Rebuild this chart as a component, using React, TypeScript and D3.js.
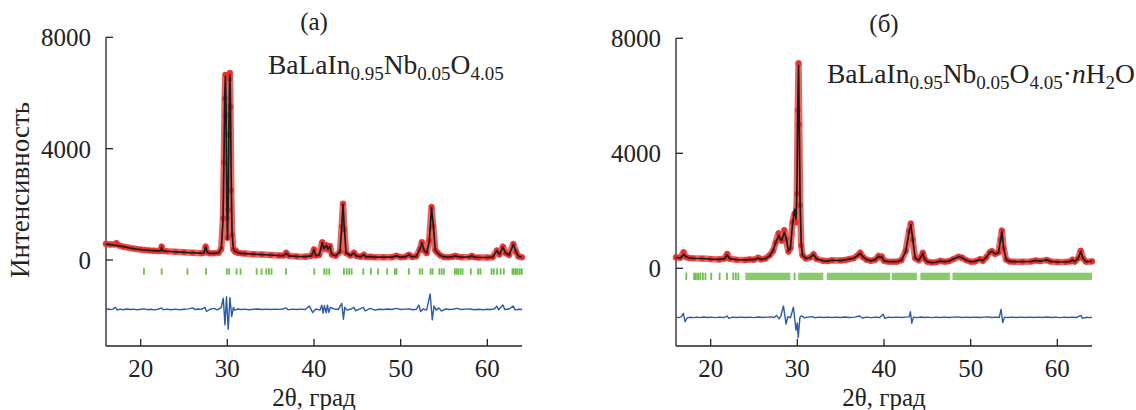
import React from 'react';
import * as d3 from 'd3';

const xTicks = [20, 30, 40, 50, 60];
const yTicks = [0, 4000, 8000];
const xDomain: [number, number] = [16, 64];

// [2θ, observed, calculated]
const profileA: [number, number, number][] = [
  [16.0, 580, 570], [16.5, 560, 550], [17.0, 560, 530], [17.2, 610, 525], [17.5, 520, 510],
  [18.0, 480, 480], [18.5, 450, 450], [19.0, 420, 420], [19.5, 395, 395], [20.0, 375, 375],
  [20.5, 360, 360], [21.0, 345, 345], [21.5, 335, 335], [22.0, 325, 325], [22.3, 330, 330],
  [22.42, 480, 470], [22.55, 330, 330], [23.0, 315, 315], [24.0, 295, 295], [25.0, 275, 275],
  [26.0, 260, 260], [27.0, 245, 245], [27.3, 260, 260], [27.5, 480, 470], [27.7, 270, 270],
  [28.0, 240, 240], [28.5, 240, 240], [29.0, 260, 260], [29.3, 400, 420], [29.5, 1500, 1400],
  [29.6, 3500, 3300], [29.7, 5800, 5900], [29.78, 6650, 6600], [29.85, 5200, 5500], [29.95, 1500, 1800],
  [30.02, 800, 750], [30.1, 1800, 2200], [30.18, 4500, 4700], [30.26, 6500, 6400], [30.3, 6720, 6650],
  [30.36, 5500, 5700], [30.45, 2500, 2700], [30.55, 900, 950], [30.7, 380, 400], [30.9, 300, 300],
  [31.0, 330, 320], [31.2, 260, 260], [31.6, 240, 240], [32.0, 230, 230], [33.0, 210, 210],
  [34.0, 195, 195], [35.0, 180, 180], [36.0, 160, 160], [36.5, 160, 160], [36.8, 260, 250],
  [37.1, 150, 150], [38.0, 130, 130], [39.0, 120, 120], [39.7, 150, 150], [40.0, 380, 370],
  [40.2, 160, 160], [40.6, 180, 180], [40.95, 640, 620], [41.15, 400, 420], [41.45, 530, 520],
  [41.6, 380, 390], [41.85, 500, 490], [42.05, 200, 200], [42.5, 150, 150], [43.0, 300, 300],
  [43.2, 1200, 1150], [43.35, 2020, 2000], [43.5, 1100, 1150], [43.7, 250, 250], [44.2, 160, 160],
  [44.6, 260, 250], [44.9, 140, 140], [45.4, 120, 120], [45.75, 190, 190], [46.0, 110, 110],
  [46.5, 120, 120], [47.0, 100, 100], [48.0, 100, 100], [49.0, 100, 100], [49.5, 150, 150],
  [50.0, 100, 100], [50.5, 110, 110], [50.95, 190, 190], [51.3, 110, 110], [51.8, 130, 130],
  [52.2, 380, 370], [52.45, 640, 620], [52.7, 350, 350], [53.0, 250, 250], [53.3, 700, 650],
  [53.56, 1900, 1880], [53.75, 1200, 1300], [54.0, 350, 350], [54.25, 260, 260], [54.6, 160, 160],
  [55.0, 110, 110], [55.5, 100, 100], [56.0, 120, 120], [56.3, 150, 150], [56.6, 120, 120],
  [57.0, 100, 100], [58.0, 110, 110], [58.2, 150, 150], [58.5, 100, 100], [59.0, 90, 90],
  [60.0, 90, 90], [60.6, 100, 100], [61.1, 340, 330], [61.4, 200, 200], [61.8, 480, 460],
  [62.1, 250, 250], [62.5, 180, 180], [63.0, 570, 560], [63.3, 300, 300], [63.6, 130, 130],
  [64.0, 100, 100],
];

// [2θ, observed − calculated, shifted]
const diffA: [number, number][] = [
  [16, -1780], [16.3, -1760], [16.5, -1785], [16.8, -1765], [17.1, -1700], [17.3, -1800], [17.6, -1765],
  [18, -1785], [18.4, -1760], [18.8, -1780], [19.2, -1765], [19.6, -1790], [20, -1770], [20.4, -1755],
  [20.8, -1785], [21.2, -1770], [21.6, -1790], [22, -1770], [22.4, -1720], [22.6, -1790], [23, -1765],
  [23.5, -1785], [24, -1765], [24.5, -1785], [25, -1770], [25.5, -1755], [26, -1720], [26.3, -1780],
  [26.7, -1760], [27, -1775], [27.4, -1700], [27.6, -1850], [28, -1770], [28.5, -1740], [28.8, -1790],
  [29.0, -1770], [29.3, -1700], [29.53, -1375], [29.73, -2330], [29.9, -1320], [30.1, -2490],
  [30.3, -1350], [30.5, -2030], [30.7, -1700], [30.85, -1800], [31.2, -1760], [31.6, -1780],
  [32, -1765], [32.5, -1785], [33, -1770], [33.5, -1760], [34, -1780], [34.5, -1765], [35, -1780],
  [35.5, -1765], [36, -1775], [36.4, -1760], [36.8, -1720], [37, -1790], [37.5, -1765], [38, -1780],
  [38.5, -1765], [39, -1780], [39.45, -1650], [39.85, -1890], [40.2, -1760], [40.7, -1800],
  [40.9, -1620], [41.05, -1910], [41.2, -1640], [41.4, -1900], [41.55, -1620], [41.7, -1880],
  [41.9, -1700], [42.3, -1760], [42.8, -1780], [43.2, -1560], [43.4, -2130], [43.55, -1700],
  [43.8, -1800], [44.3, -1760], [44.6, -1700], [44.8, -1820], [45.3, -1760], [45.7, -1700],
  [45.9, -1830], [46.5, -1740], [47, -1800], [47.5, -1770], [48, -1780], [48.5, -1760], [49, -1780],
  [49.5, -1740], [50, -1780], [50.5, -1765], [51, -1760], [51.4, -1785], [51.8, -1770], [52.1, -1620],
  [52.3, -1850], [52.6, -1760], [53.0, -1800], [53.4, -1220], [53.65, -2150], [53.85, -1650],
  [54.1, -1800], [54.4, -1720], [54.7, -1830], [55.2, -1760], [55.6, -1780], [56, -1770],
  [56.5, -1740], [57, -1780], [57.5, -1765], [58, -1760], [58.5, -1785], [59, -1770], [59.5, -1785],
  [60, -1770], [60.4, -1780], [60.8, -1760], [61.1, -1660], [61.3, -1790], [61.8, -1620], [62, -1780],
  [62.5, -1760], [63, -1660], [63.2, -1790], [63.6, -1770], [64, -1780],
];

const reflectionsA = [
  20.38, 22.42, 25.4, 27.53, 29.95, 30.22, 31.07, 31.53, 33.38, 33.95, 34.5, 34.8, 35.1, 36.76,
  40.03, 41.18, 41.45, 41.76, 43.45, 43.76, 44.06, 44.34, 45.68, 46.57, 47.4, 48.44, 49.33, 49.52,
  50.95, 52.2, 52.5, 53.45, 53.68, 54.45, 54.72, 54.98, 56.25, 56.45, 56.64, 56.9, 57.14, 58.1,
  58.94, 59.2, 60.48, 60.75, 61.13, 61.53, 61.9, 62.9, 63.06, 63.3, 63.5, 63.75, 63.98,
];

const profileB: [number, number, number][] = [
  [16.0, 380, 370], [16.5, 370, 360], [16.88, 560, 480], [17.1, 400, 420], [17.5, 360, 360],
  [18.0, 350, 350], [19.0, 340, 340], [20.0, 320, 320], [21.0, 310, 310], [21.6, 340, 330],
  [21.9, 500, 470], [22.2, 330, 330], [23.0, 300, 300], [24.0, 290, 290], [24.5, 310, 300],
  [25.0, 300, 300], [25.5, 370, 350], [25.8, 310, 310], [26.3, 340, 330], [26.8, 450, 430],
  [27.2, 600, 620], [27.5, 900, 880], [27.84, 1220, 1150], [28.05, 1050, 1000], [28.2, 960, 980],
  [28.5, 1330, 1250], [28.7, 1000, 1080], [28.97, 580, 600], [29.2, 700, 700], [29.45, 1600, 1550],
  [29.68, 1900, 2050], [29.85, 1600, 1700], [29.95, 2600, 2700], [30.05, 5500, 5500], [30.14, 7130, 7050],
  [30.22, 5000, 5100], [30.32, 2200, 2300], [30.45, 800, 850], [30.6, 450, 450], [31.0, 340, 340],
  [31.5, 380, 380], [31.87, 490, 480], [32.2, 330, 330], [33.0, 260, 260], [33.5, 250, 250],
  [34.0, 280, 280], [35.0, 270, 270], [35.5, 290, 290], [36.0, 320, 320], [36.5, 350, 350],
  [37.0, 460, 450], [37.26, 540, 520], [37.6, 380, 390], [38.0, 300, 300], [38.5, 260, 260],
  [39.0, 300, 300], [39.37, 430, 420], [39.55, 380, 380], [39.75, 410, 400], [40.0, 260, 260],
  [40.5, 230, 230], [41.0, 230, 230], [41.5, 230, 230], [42.0, 280, 280], [42.5, 600, 580],
  [42.9, 1300, 1280], [43.1, 1560, 1520], [43.3, 1000, 1050], [43.6, 350, 360], [44.0, 280, 280],
  [44.3, 420, 410], [44.48, 540, 530], [44.7, 320, 320], [45.0, 230, 230], [45.5, 200, 200],
  [46.0, 210, 210], [46.5, 260, 250], [47.0, 230, 230], [47.5, 250, 250], [48.0, 320, 320],
  [48.6, 400, 400], [49.0, 370, 370], [49.5, 280, 280], [50.0, 230, 230], [50.5, 240, 240],
  [51.1, 320, 310], [51.4, 260, 260], [51.8, 380, 380], [52.2, 560, 550], [52.45, 600, 590],
  [52.8, 500, 500], [53.2, 550, 540], [53.45, 1000, 980], [53.6, 1310, 1290], [53.8, 700, 720],
  [54.1, 300, 300], [54.5, 240, 240], [55.0, 230, 230], [56.0, 230, 230], [57.0, 240, 240],
  [57.5, 270, 270], [58.0, 250, 250], [58.8, 290, 290], [59.2, 240, 240], [60.0, 220, 220],
  [61.0, 220, 220], [61.5, 240, 240], [61.75, 300, 290], [62.0, 230, 230], [62.4, 350, 340],
  [62.7, 610, 590], [62.95, 350, 350], [63.3, 230, 230], [64.0, 240, 240],
];

const diffB: [number, number][] = [
  [16, -1700], [16.3, -1715], [16.6, -1690], [16.85, -1565], [17.05, -1860], [17.3, -1720], [17.6, -1705],
  [18, -1715], [18.4, -1700], [18.8, -1715], [19.2, -1695], [19.6, -1712], [20, -1700], [20.5, -1715],
  [21, -1700], [21.5, -1712], [21.9, -1660], [22.1, -1740], [22.5, -1700], [23, -1712], [23.5, -1698],
  [24, -1712], [24.5, -1700], [25, -1714], [25.5, -1695], [26, -1710], [26.5, -1698], [27, -1690],
  [27.3, -1715], [27.6, -1640], [27.9, -1760], [28.1, -1660], [28.4, -1310], [28.7, -1940],
  [28.9, -1680], [29.2, -1720], [29.55, -1355], [29.85, -2150], [30.0, -1900], [30.1, -2410],
  [30.3, -1700], [30.5, -1650], [30.8, -1720], [31.2, -1700], [31.8, -1680], [32, -1720], [32.5, -1700],
  [33, -1712], [33.5, -1698], [34, -1712], [34.5, -1698], [35, -1710], [35.5, -1695], [36, -1712],
  [36.6, -1700], [37.2, -1660], [37.5, -1730], [38, -1700], [38.5, -1714], [39, -1700], [39.5, -1712],
  [39.9, -1600], [40.1, -1740], [40.5, -1700], [41, -1712], [41.5, -1698], [42, -1712], [42.5, -1700],
  [42.9, -1690], [43.05, -1510], [43.2, -1910], [43.4, -1700], [43.8, -1715], [44.3, -1695],
  [44.7, -1712], [45, -1700], [45.5, -1714], [46, -1700], [46.5, -1712], [47, -1698], [47.5, -1712],
  [48, -1700], [48.5, -1690], [49, -1712], [49.5, -1698], [50, -1710], [50.5, -1697], [51, -1712],
  [51.5, -1700], [52, -1690], [52.4, -1712], [53, -1700], [53.3, -1712], [53.5, -1430], [53.7, -1890],
  [53.9, -1700], [54.3, -1712], [54.8, -1698], [55.3, -1712], [55.8, -1700], [56.3, -1712], [56.8, -1698],
  [57.3, -1712], [57.8, -1700], [58.3, -1712], [58.8, -1695], [59.3, -1712], [59.8, -1700],
  [60.3, -1714], [60.8, -1700], [61.3, -1712], [61.8, -1698], [62.2, -1712], [62.7, -1640],
  [62.9, -1740], [63.3, -1705], [63.7, -1715], [64, -1705],
];

const reflectionsB = [
  17.19, 18.1, 18.3, 18.55, 18.8, 19.1, 19.4, 20.07, 21.03, 21.88, 22.6, 22.9, 23.2, 29.68,
];
// dense runs of reflections that merge into solid bars: [from, to]
const reflectionRunsB: [number, number][] = [
  [24.0, 29.2], [30.1, 33.0], [33.4, 40.7], [40.9, 43.8], [44.2, 47.6], [47.9, 64.0],
];

const FONT = "'Liberation Serif', 'Times New Roman', serif";
const RED = '#e8302c';
const BLACK = '#1c1c1c';
const GREEN = '#6cbf4a';
const BLUE = '#2b5aa8';

type PanelProps = {
  x0: number; x1: number; yTop: number; yZero: number; yBottom: number;
  profile: [number, number, number][];
  diff: [number, number][];
  reflections: number[];
  runs: [number, number][];
  tickLo: number; tickHi: number;
  letter: string; letterY: number;
  formula: React.ReactNode;
  yLabel?: boolean;
};

function Panel(p: PanelProps) {
  const x = d3.scaleLinear().domain(xDomain).range([p.x0, p.x1]);
  const k = (p.yZero - p.yTop) / 8000;
  const yMin = -(p.yBottom - p.yZero) / k;
  const y = d3.scaleLinear().domain([yMin, 8000]).range([p.yBottom, p.yTop]);
  const obsLine = d3.line<[number, number, number]>().x(d => x(d[0])).y(d => y(d[1]));
  const calcLine = d3.line<[number, number, number]>().x(d => x(d[0])).y(d => y(d[2]));
  const diffLine = d3.line<[number, number]>().x(d => x(d[0])).y(d => y(d[1]));
  const cx = (p.x0 + p.x1) / 2;
  return (
    <g fontFamily={FONT} fill="#222">
      {/* axes */}
      <line x1={p.x0} x2={p.x0} y1={y(8000)} y2={p.yBottom} stroke="#222" strokeWidth={1.3} />
      <line x1={p.x0} x2={p.x1} y1={p.yBottom} y2={p.yBottom} stroke="#222" strokeWidth={1.3} />
      {yTicks.map(t => (
        <g key={'y' + t}>
          <line x1={p.x0} x2={p.x0 + 7} y1={y(t)} y2={y(t)} stroke="#222" strokeWidth={1.3} />
          <text x={p.x0 - 15} y={y(t) + 9} fontSize={25} textAnchor="end">{t}</text>
        </g>
      ))}
      {xTicks.map(t => (
        <g key={'x' + t}>
          <line x1={x(t)} x2={x(t)} y1={p.yBottom} y2={p.yBottom - 7} stroke="#222" strokeWidth={1.3} />
          <text x={x(t)} y={p.yBottom + 31} fontSize={25} textAnchor="middle">{t}</text>
        </g>
      ))}
      <text x={cx} y={406} fontSize={25} textAnchor="middle">2θ, град</text>
      {p.yLabel && (
        <text transform={`translate(29,${190}) rotate(-90)`} fontSize={27} textAnchor="middle">Интенсивность</text>
      )}
      <text x={cx} y={p.letterY} fontSize={25} textAnchor="middle">{p.letter}</text>
      {p.formula}
      {/* reflection ticks */}
      {p.runs.map((r, i) => (
        <rect key={'r' + i} x={x(r[0])} width={x(r[1]) - x(r[0])} y={y(p.tickHi)} height={y(p.tickLo) - y(p.tickHi)} fill={GREEN} opacity={0.82} />
      ))}
      {p.reflections.map((r, i) => (
        <line key={'t' + i} x1={x(r)} x2={x(r)} y1={y(p.tickHi)} y2={y(p.tickLo)} stroke={GREEN} strokeWidth={1.8} />
      ))}
      {/* difference */}
      <path d={diffLine(p.diff) || ''} fill="none" stroke={BLUE} strokeWidth={1.4} strokeLinejoin="round" />
      {/* observed */}
      <path d={obsLine(p.profile) || ''} fill="none" stroke={RED} strokeWidth={6.5} strokeOpacity={0.75} strokeLinejoin="round" strokeLinecap="round" />
      {p.profile.map((d, i) => (
        <circle key={'o' + i} cx={x(d[0])} cy={y(d[1])} r={2.8} fill={RED} />
      ))}
      {/* calculated */}
      <path d={calcLine(p.profile) || ''} fill="none" stroke={BLACK} strokeWidth={1.7} strokeLinejoin="round" />
    </g>
  );
}

const SUB = 19;

export default function App() {
  const formulaA = (
    <text x={268} y={74} fontSize={27.5} fontFamily={FONT} fill="#222">
      BaLaIn<tspan fontSize={SUB} dy={6}>0.95</tspan>
      <tspan dy={-6}>Nb</tspan><tspan fontSize={SUB} dy={6}>0.05</tspan>
      <tspan dy={-6}>O</tspan><tspan fontSize={SUB} dy={6}>4.05</tspan>
    </text>
  );
  const formulaB = (
    <text x={827} y={83} fontSize={27.5} fontFamily={FONT} fill="#222">
      BaLaIn<tspan fontSize={SUB} dy={6}>0.95</tspan>
      <tspan dy={-6}>Nb</tspan><tspan fontSize={SUB} dy={6}>0.05</tspan>
      <tspan dy={-6}>O</tspan><tspan fontSize={SUB} dy={6}>4.05</tspan>
      <tspan dy={-6}>·</tspan><tspan fontStyle="italic">n</tspan>H<tspan fontSize={SUB} dy={6}>2</tspan>
      <tspan dy={-6}>O</tspan>
    </text>
  );
  return (
    <svg width={1136} height={410} style={{ position: 'fixed', left: 0, top: 0, display: 'block', background: '#fff' }}>
      <rect width={1136} height={410} fill="#fff" />
      <Panel x0={106} x1={522} yTop={37.3} yZero={260} yBottom={346}
        profile={profileA} diff={diffA} reflections={reflectionsA} runs={[]}
        tickLo={-530} tickHi={-300} letter="(а)" letterY={30} formula={formulaA} yLabel />
      <Panel x0={676} x1={1092} yTop={38.3} yZero={268.3} yBottom={346}
        profile={profileB} diff={diffB} reflections={reflectionsB} runs={reflectionRunsB}
        tickLo={-407} tickHi={-153} letter="(б)" letterY={32} formula={formulaB} />
    </svg>
  );
}
